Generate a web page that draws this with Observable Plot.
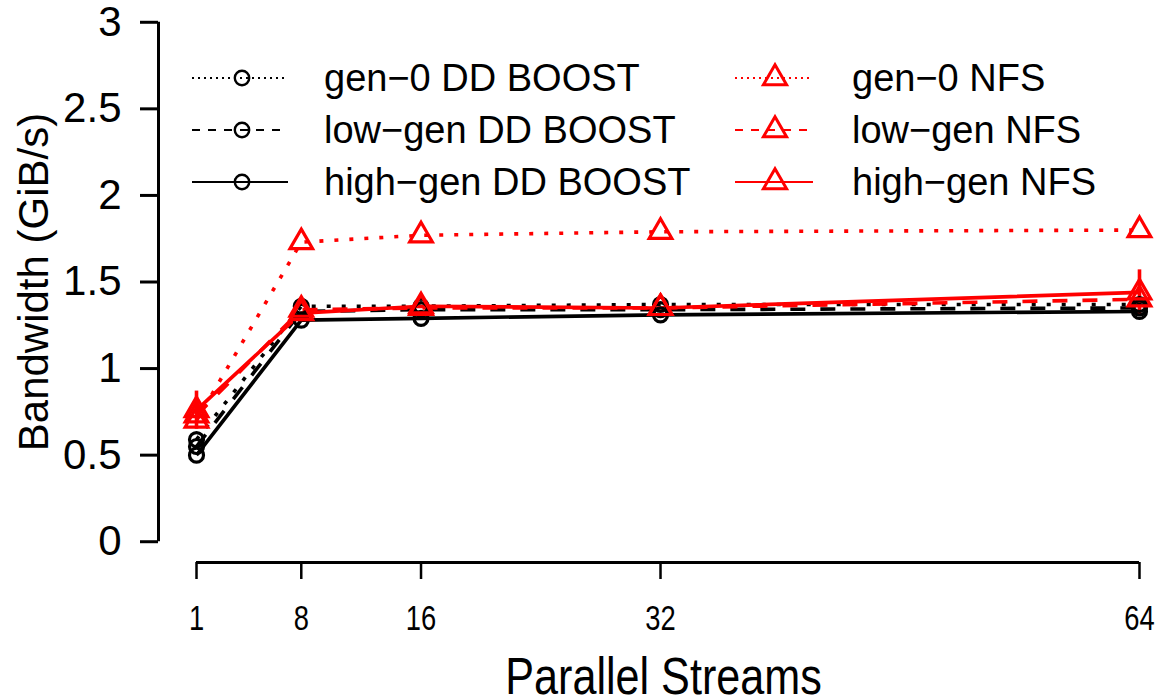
<!DOCTYPE html>
<html>
<head>
<meta charset="utf-8">
<script src="https://cdn.jsdelivr.net/npm/d3@7"></script>
<script src="https://cdn.jsdelivr.net/npm/@observablehq/plot@0.6"></script>
<style>
  html, body { margin: 0; padding: 0; background: #fff; }
  #chart { position: relative; width: 1158px; height: 698px; overflow: hidden; }
  #chart svg { display: block; }
  #legend { position: absolute; left: 0; top: 0; pointer-events: none; }
</style>
</head>
<body>
<div id="chart"></div>
<script>
// Parallel stream counts on the x axis
const streams = [1, 8, 16, 32, 64];
const xTicks = [1, 8, 16, 32, 64];
const yTicks = [0, 0.5, 1, 1.5, 2, 2.5, 3];

// Mean bandwidth (GiB/s) per configuration
const gen0Boost    = [0.59, 1.36, 1.36, 1.37, 1.37];
const lowGenBoost  = [0.55, 1.33, 1.34, 1.34, 1.35];
const highGenBoost = [0.50, 1.28, 1.29, 1.31, 1.33];
const gen0Nfs      = [0.70, 1.73, 1.77, 1.79, 1.80];
const lowGenNfs    = [0.73, 1.34, 1.35, 1.35, 1.40];
const highGenNfs   = [0.76, 1.32, 1.36, 1.35, 1.44];

// Spread around the mean (only the high-gen NFS runs vary visibly)
const highGenNfsErr = [0.11, 0, 0, 0, 0.13];

const seriesNames = [
  "gen\u22120 DD BOOST", "low\u2212gen DD BOOST", "high\u2212gen DD BOOST",
  "gen\u22120 NFS", "low\u2212gen NFS", "high\u2212gen NFS"
];
const xTitle = "Parallel Streams";
const yTitle = "Bandwidth (GiB/s)";

const RED = "#ff0000";
const series = [
  {name: seriesNames[0], values: gen0Boost,    color: "#000", dash: "4 11",  legendDash: "2 4", symbol: "circle"},
  {name: seriesNames[1], values: lowGenBoost,  color: "#000", dash: "15 15", legendDash: "8 8", symbol: "circle"},
  {name: seriesNames[2], values: highGenBoost, color: "#000", dash: null,    legendDash: null,  symbol: "circle"},
  {name: seriesNames[3], values: gen0Nfs,      color: RED,    dash: "4 11",  legendDash: "2 4", symbol: "triangle"},
  {name: seriesNames[4], values: lowGenNfs,    color: RED,    dash: "15 15", legendDash: "8 8", symbol: "triangle"},
  {name: seriesNames[5], values: highGenNfs,   color: RED,    dash: null,    legendDash: null,  symbol: "triangle"}
];

const rowsOf = s => streams.map((x, i) => ({x, y: s.values[i]}));
const errRows = streams
  .map((x, i) => ({x, lo: highGenNfs[i] - highGenNfsErr[i], hi: highGenNfs[i] + highGenNfsErr[i], e: highGenNfsErr[i]}))
  .filter(d => d.e > 0);

const sans = "'Liberation Sans', Arial, Helvetica, sans-serif";

// Domains padded 4% beyond the data range, the way base R plots do
const xDomain = [-1.539, 65.27];
const yDomain = [-0.12, 3.12];

const marks = [];
for (const s of series) {
  marks.push(Plot.line(rowsOf(s), {
    x: "x", y: "y", stroke: s.color, strokeWidth: 3.6,
    strokeDasharray: s.dash ?? undefined, strokeLinecap: "butt", strokeLinejoin: "miter"
  }));
}
marks.push(Plot.ruleX(errRows, {x: "x", y1: "lo", y2: "hi", stroke: RED, strokeWidth: 3.6}));
for (const s of series) {
  marks.push(Plot.dot(rowsOf(s), {
    x: "x", y: "y", symbol: s.symbol, r: s.symbol === "circle" ? 7 : 8.4,
    stroke: s.color, strokeWidth: 3.2, fill: "none"
  }));
}

// Axes: y axis line spans first to last tick, x axis line spans 1..64
marks.push(Plot.ruleX([xDomain[0]], {y1: yTicks[0], y2: yTicks[yTicks.length - 1], strokeWidth: 3}));
marks.push(Plot.ruleY([yDomain[0]], {x1: xTicks[0], x2: xTicks[xTicks.length - 1], strokeWidth: 3}));
marks.push(Plot.axisY(yTicks, {
  anchor: "left", tickSize: 18, tickPadding: 19, strokeWidth: 3,
  fontSize: 42, fontFamily: sans, fill: "#000", label: null, tickFormat: d => String(d)
}));
marks.push(Plot.axisX(xTicks, {
  anchor: "bottom", tickSize: 17, tickPadding: 25, strokeWidth: 2.5,
  fontSize: 36, fontFamily: sans, fill: "#000", label: null, tickFormat: d => String(d)
}));
marks.push(Plot.text([yTitle], {
  frameAnchor: "left", rotate: -90, dx: -124, textAnchor: "middle", lineAnchor: "middle",
  fontSize: 42, fontFamily: sans, fill: "#000"
}));
marks.push(Plot.text([xTitle], {
  frameAnchor: "bottom", dx: 5, dy: 115, textAnchor: "middle", lineAnchor: "middle",
  fontSize: 52, fontFamily: sans, fill: "#000"
}));

const plot = Plot.plot({
  width: 1158,
  height: 698,
  marginLeft: 158,
  marginRight: 0,
  marginTop: 1,
  marginBottom: 136,
  style: {background: "#fff", overflow: "visible"},
  x: {domain: xDomain, axis: null},
  y: {domain: yDomain, axis: null},
  marks
});

// The x axis uses a condensed face: squeeze its texts horizontally
const squeeze = (sel, k) => sel.attr("transform", function() {
  const t = this.getAttribute("transform") || "";
  return `${t} scale(${k},1)`;
});
squeeze(d3.select(plot).selectAll('g[aria-label="x-axis tick label"] text'), 0.76);
squeeze(d3.select(plot).selectAll("text").filter(function() { return this.textContent === xTitle; }), 0.83);

const chart = document.getElementById("chart");
chart.appendChild(plot);

// Two-column legend in the upper part of the plotting region
const legend = d3.select(chart).append("svg")
  .attr("id", "legend").attr("width", 1158).attr("height", 698);
const cols = [
  {lineX1: 192, lineX2: 288, symX: 242, textX: 324},
  {lineX1: 735, lineX2: 813, symX: 775, textX: 852}
];
const rowY = [78, 130, 182];
series.forEach((s, i) => {
  const c = cols[Math.floor(i / 3)];
  const y = rowY[i % 3];
  const g = legend.append("g");
  g.append("line")
    .attr("x1", c.lineX1).attr("x2", c.lineX2).attr("y1", y).attr("y2", y)
    .attr("stroke", s.color).attr("stroke-width", 2.2)
    .attr("stroke-dasharray", s.legendDash);
  const sym = s.symbol === "circle" ? d3.symbolCircle : d3.symbolTriangle;
  const size = s.symbol === "circle" ? Math.PI * 7.2 * 7.2 : Math.PI * 8.6 * 8.6;
  g.append("path")
    .attr("d", d3.symbol(sym, size)())
    .attr("transform", `translate(${c.symX},${y})`)
    .attr("fill", "none").attr("stroke", s.color).attr("stroke-width", s.symbol === "circle" ? 2.4 : 3);
  g.append("text")
    .attr("x", c.textX).attr("y", y).attr("dy", "0.35em")
    .attr("font-family", sans).attr("font-size", 38).attr("fill", "#000")
    .text(s.name);
});
</script>
</body>
</html>
